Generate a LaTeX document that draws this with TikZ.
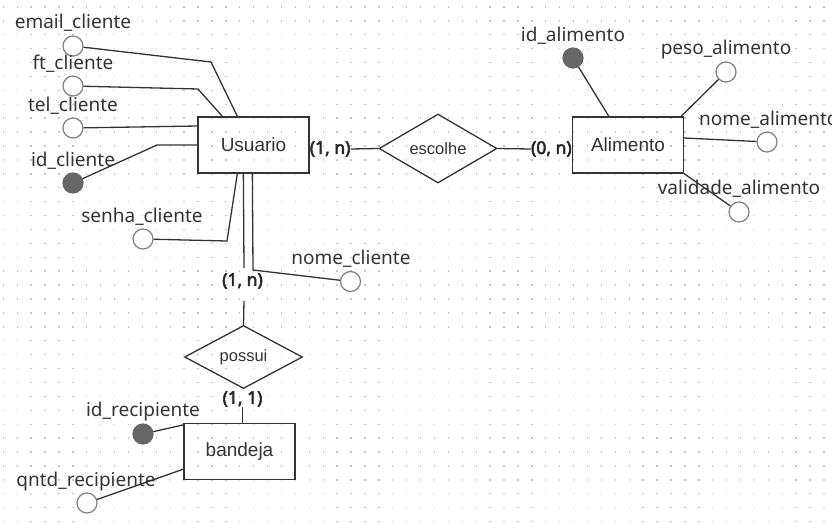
\documentclass[tikz,border=0pt]{standalone}
\usepackage{fontspec}
\setmainfont{Liberation Sans}
\newfontfamily\notof{Noto Sans}
\newfontfamily\notobf{Noto Sans}[FakeBold=3]
\usetikzlibrary{shapes.geometric}
\definecolor{edgec}{HTML}{333333}
\definecolor{txtc}{HTML}{333333}
\definecolor{attrc}{HTML}{808080}
\definecolor{keyc}{HTML}{666666}
\definecolor{gridc}{HTML}{C8C8C8}
\begin{document}
\begin{tikzpicture}[x=1pt,y=-1pt,
  ent/.style={draw=edgec, line width=1.3pt, minimum width=111pt, minimum height=56pt, inner sep=0pt, font=\fontsize{19}{22}\selectfont, text=txtc},
  rel/.style={diamond, draw=edgec, line width=1.3pt, minimum width=118pt, minimum height=62pt, inner sep=0pt, font=\fontsize{16.5}{20}\selectfont, text=txtc},
  attr/.style={circle, draw=attrc, fill=white, line width=1.2pt, minimum size=20pt, inner sep=0pt},
  keyattr/.style={circle, draw=keyc, fill=keyc, line width=1.2pt, minimum size=20pt, inner sep=0pt},
  lbl/.style={font=\notof\fontsize{19}{22}\selectfont, text=txtc, inner sep=0pt},
  card/.style={font=\notobf\fontsize{17.5}{20}\selectfont, text=black!85, inner sep=0pt},
  conn/.style={draw=edgec, line width=1.3pt}
]
\useasboundingbox (0,0) rectangle (832,522);
\fill[white] (0,0) rectangle (832,522);
% dotted grid
\foreach \k in {0,...,37}{
  \draw[gridc, line width=1.4pt, dash pattern=on 1.4pt off 12.51pt] (2.6,6.9+\k*13.91) -- (832,6.9+\k*13.91);
}
% entities
\node[ent] (usu) at (253.5,145) {Usuario};
\node[ent] (ali) at (628,145) {Alimento};
\node[ent] (band) at (239.5,451.5) {bandeja};
% relationships
\node[rel] (esc) at (438,148.5) {escolhe};
\node[rel] (pos) at (243.5,357) {possui};
% cardinalities
\node[card, anchor=west] (c1) at (usu.east |- 0,149) {(1, n)};
\node[card, anchor=east] (c2) at (ali.west |- 0,149) {(0, n)};
\node[card] (c3) at (242.5,281) {(1, n)};
\node[card] (c4) at (242.5,399) {(1, 1)};
% attribute circles
\node[attr] (email) at (73,46) {};
\node[attr] (ft) at (73,86) {};
\node[attr] (tel) at (73,128) {};
\node[keyattr] (idc) at (73,183) {};
\node[attr] (senha) at (143,239) {};
\node[attr] (nomec) at (350.5,281.5) {};
\node[keyattr] (ida) at (573,58) {};
\node[attr] (peso) at (726,72) {};
\node[attr] (nomea) at (767,142) {};
\node[attr] (valid) at (739,212) {};
\node[keyattr] (idr) at (143,434) {};
\node[attr] (qntd) at (87,503) {};
% bend points
\coordinate (bemail) at (211,62);
\coordinate (bft) at (198,89);
\coordinate (bidc) at (157,145);
\coordinate (bsenha) at (227,241);
\coordinate (bnomec) at (253,270);
\coordinate (pu1) at (244,268);
\coordinate (pu2) at (244,301);
% connectors
\draw[conn] (email) -- (bemail) -- ([xshift=40pt]usu.north west);
\draw[conn] (ft) -- (bft) -- ([xshift=25pt]usu.north west);
\draw[conn] (tel) -- ([yshift=19pt]usu.west);
\draw[conn] (idc) -- (bidc) -- (usu.west);
\draw[conn] (senha) -- (bsenha) -- ([xshift=40pt]usu.south west);
\draw[conn] ([xshift=55pt]usu.south west) -- (bnomec) -- (nomec);
\draw[conn] ([xshift=46pt]usu.south west) -- (pu1);
\draw[conn] (pu2) -- (pos.north);
\draw[conn] (c1.east) -- (esc.west);
\draw[conn] (esc.east) -- (c2.west);
\draw[conn] (c4.south) -- (c4.south |- band.north);
\draw[conn] (ida) -- ([xshift=37pt]ali.north west);
\draw[conn] (peso) -- ([xshift=-3pt]ali.north east);
\draw[conn] ([yshift=7pt]ali.east) -- (nomea);
\draw[conn] (ali.south east) -- (valid);
\draw[conn] (idr) -- ([yshift=-2pt]band.north west);
\draw[conn] (qntd) -- ([yshift=11pt]band.south west);
% labels
\node[lbl] (lemail) at (73,23) {email\_cliente};
\node[lbl] (lft) at (73,64) {ft\_cliente};
\node[lbl] (ltel) at (73,106) {tel\_cliente};
\node[lbl] (lidc) at (73,161) {id\_cliente};
\node[lbl] (lsenha) at (142,217) {senha\_cliente};
\node[lbl] (lnomec) at (351,259) {nome\_cliente};
\node[lbl] (lida) at (573,36) {id\_alimento};
\node[lbl] (lpeso) at (726,50) {peso\_alimento};
\node[lbl, anchor=west] (lnomea) at (699,120) {nome\_alimento};
\node[lbl] (lvalid) at (739,189) {validade\_alimento};
\node[lbl] (lidr) at (143,412) {id\_recipiente};
\node[lbl] (lqntd) at (86,482) {qntd\_recipiente};
\end{tikzpicture}
\end{document}
